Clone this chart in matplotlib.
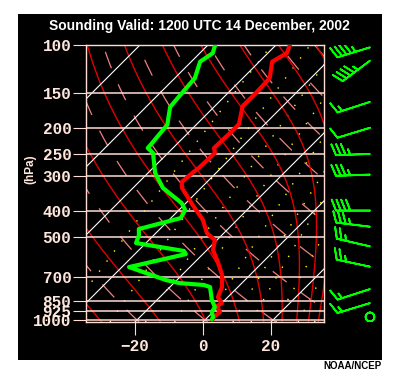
import numpy as np
import matplotlib
matplotlib.use('Agg')
import matplotlib.pyplot as plt
from matplotlib.patches import Rectangle
from matplotlib.ticker import FixedLocator, NullLocator, NullFormatter

# Temperature trace (hPa, degC)
TEMP_P = [100, 107, 115, 132, 148, 167, 194, 207, 237, 247, 278, 297, 315, 331,
          382, 433, 483, 512, 557, 616, 686, 759, 826, 868, 890, 936, 967, 1000]
TEMP_T = [-55.9, -54.4, -56.2, -52.1, -51.8, -51.8, -47.6, -47.6, -47.9, -46.2,
          -46.5, -47.1, -47.4, -45.6, -37.4, -30.0, -25.0, -20.6, -18.2, -13.2,
          -8.2, -4.7, -2.9, 0.0, -0.6, 2.1, 1.8, 2.1]

# Dewpoint trace (hPa, degC)
DEWP_P = [100, 107, 115, 132, 150, 168, 195, 227, 237, 247, 292, 331, 376, 398,
          426, 467, 491, 525, 561, 576, 642, 716, 734, 746, 759, 847, 897, 936,
          975, 993]
DEWP_T = [-77.9, -76.2, -77.4, -74.1, -73.5, -72.9, -68.5, -67.6, -67.4, -64.4,
          -57.9, -51.2, -41.2, -38.2, -37.1, -46.2, -44.4, -42.9, -26.5, -25.0,
          -37.9, -23.2, -18.5, -10.6, -8.2, -3.8, -0.9, -0.3, 1.5, 1.8]

# Wind barbs (hPa, knots, direction in degrees); 0 kt = calm
WIND_P = [102, 114, 161, 200, 249, 296, 400, 458, 540, 640, 772, 868, 975]
WIND_SPD = [45, 45, 15, 10, 35, 35, 40, 35, 25, 25, 15, 15, 0]
WIND_DIR = [253, 233, 252, 253, 268, 268, 270, 277, 283, 282, 252, 253, 0]

# Chart furniture
ISOBARS = [100, 150, 200, 250, 300, 400, 500, 700, 850, 925, 1000]
ISOBAR_LABELS = ['100', '150', '200', '250', '300', '400', '500', '700', '850', '925', '1000']
T_TICKS = [-20, 0, 20]
ISOTHERMS = [-100, -80, -60, -40, -20, 0, 20]
DRY_THETA_C = [-20, 0, 20, 40, 60, 80, 100, 120, 140, 160]
MOIST_THETA_E = [243, 263, 283, 303, 323, 343, 363, 383, 403, 423]
MIX_RATIOS = [0.1, 0.4, 1, 2, 4, 7, 10, 16, 24, 32]

P_BOT = 1017.0
P_TOP = 100.0
X_MIN, X_MAX = -34.4, 35.6

RD = 287.04
CP = 1005.7
LV = 2.501e6
EPS = 0.622

PINK = '#FFDDD3'
LABEL = '#FFE6DC'
GREEN = '#00FF00'

W_PX, H_PX = 400, 375
AX_L, AX_R, AX_T, AX_B = 86, 324, 45, 322

# skew so isotherms run at 45 degrees on screen
SKEW = ((AX_B - AX_T) / np.log(P_BOT / P_TOP)) / ((AX_R - AX_L) / (X_MAX - X_MIN))


def skew_x(t_c, p):
    return np.asarray(t_c) + SKEW * np.log(P_BOT / np.asarray(p))


def sat_vap(t_c):
    return 6.112 * np.exp(17.67 * t_c / (t_c + 243.5))


def sat_mix(t_k, p):
    es = sat_vap(t_k - 273.15)
    return EPS * es / (p - es)


def theta_e(t_k, p):
    rs = sat_mix(t_k, p)
    return t_k * (1000.0 / p) ** (RD / CP) * np.exp(LV * rs / (CP * t_k))


def moist_rate(t_k, p):
    rs = sat_mix(t_k, p)
    return (RD * t_k + LV * rs) / (CP + LV ** 2 * rs * EPS / (RD * t_k ** 2))


def moist_adiabat(the, p_levels):
    lo, hi = 200.0, 320.0
    for _ in range(60):
        mid = 0.5 * (lo + hi)
        if theta_e(mid, p_levels[0]) > the:
            hi = mid
        else:
            lo = mid
    t = 0.5 * (lo + hi)
    temps = [t]
    for i in range(1, len(p_levels)):
        dlnp = np.log(p_levels[i] / p_levels[i - 1])
        k1 = moist_rate(t, p_levels[i - 1])
        pm = p_levels[i - 1] * np.exp(0.5 * dlnp)
        k2 = moist_rate(t + 0.5 * dlnp * k1, pm)
        t = t + dlnp * k2
        temps.append(t)
    return np.array(temps) - 273.15


def mix_line(w, p):
    e = p * w / (622.0 + w)
    a = np.log(e / 6.112)
    return 243.5 * a / (17.67 - a)


fig = plt.figure(figsize=(W_PX / 100, H_PX / 100), dpi=100, facecolor='white')
fig.patches.append(Rectangle((18 / W_PX, 1 - 360 / H_PX), 364 / W_PX, 346 / H_PX,
                             transform=fig.transFigure, facecolor='black',
                             edgecolor='none', zorder=-10))

ax = fig.add_axes([AX_L / W_PX, 1 - AX_B / H_PX, (AX_R - AX_L) / W_PX, (AX_B - AX_T) / H_PX])
ax.set_facecolor('black')
ax.set_yscale('log')
ax.set_ylim(P_BOT, P_TOP)
ax.set_xlim(X_MIN, X_MAX)

p_line = np.geomspace(P_BOT, P_TOP, 300)

# mixing ratio lines
for w in MIX_RATIOS:
    ax.plot(skew_x(mix_line(w, p_line), p_line), p_line, color='#FFFF00', lw=1.0,
            linestyle=(0, (1, 8)), zorder=1)

# dry adiabats
for th in DRY_THETA_C:
    t = (th + 273.15) * (p_line / 1000.0) ** (RD / CP) - 273.15
    ax.plot(skew_x(t, p_line), p_line, color='#F08080', lw=0.9,
            linestyle=(0, (14, 14)), zorder=1)

# saturated adiabats
for the in MOIST_THETA_E:
    t = moist_adiabat(the, p_line)
    ax.plot(skew_x(t, p_line), p_line, color='#E00000', lw=1.0, zorder=2)

# isotherms
for t in ISOTHERMS:
    ax.plot(skew_x([t, t], [P_BOT, P_TOP]), [P_BOT, P_TOP], color='white', lw=0.8, zorder=2)

# isobars
for p in ISOBARS:
    ax.axhline(p, color=PINK, lw=1.1, zorder=3)

# sounding
ax.plot(skew_x(TEMP_T, TEMP_P), TEMP_P, color='#FF0000', lw=3, zorder=5,
        solid_joinstyle='round', solid_capstyle='round')
ax.plot(skew_x(DEWP_T, DEWP_P), DEWP_P, color=GREEN, lw=3, zorder=6,
        solid_joinstyle='round', solid_capstyle='round')

for s in ax.spines.values():
    s.set_color(PINK)
    s.set_linewidth(1.0)

ax.yaxis.set_major_locator(FixedLocator(ISOBARS))
ax.yaxis.set_minor_locator(NullLocator())
ax.yaxis.set_minor_formatter(NullFormatter())
ax.set_yticklabels(ISOBAR_LABELS)
ax.set_xticks(T_TICKS)
ax.set_xticklabels(['\u221220', '0', '20'])
ax.tick_params(axis='both', direction='out', length=9.5, width=0.8, color=PINK,
               labelcolor=LABEL, pad=1)
ax.tick_params(axis='x', pad=3)
for lab in ax.get_yticklabels() + ax.get_xticklabels():
    lab.set_family(['Liberation Mono', 'DejaVu Sans Mono'])
    lab.set_fontweight('bold')
    lab.set_fontsize(11.5)

# wind barbs on the right
axb = fig.add_axes([AX_R / W_PX, 1 - AX_B / H_PX, 58 / W_PX, (AX_B - AX_T) / H_PX])
axb.set_yscale('log')
axb.set_ylim(P_BOT, P_TOP)
axb.set_xlim(0, 58)
axb.axis('off')
spd = np.array(WIND_SPD, dtype=float)
rad = np.deg2rad(WIND_DIR)
u = -spd * np.sin(rad)
v = -spd * np.cos(rad)
axb.barbs(np.full(len(WIND_P), 46.0), WIND_P, u, v, length=7.0, pivot='tip',
          color=GREEN, linewidth=1.3,
          sizes=dict(spacing=0.14, height=0.32, width=0.25, emptybarb=0.13))

fig.text(0.4975, 1 - 26 / H_PX, 'Sounding Valid: 1200 UTC 14 December, 2002',
         ha='center', va='center', color='white', fontsize=10, fontweight='bold',
         family='Liberation Sans')
fig.text(30 / W_PX, 1 - 169 / H_PX, '(hPa)', rotation=90, ha='center', va='center',
         color=LABEL, fontsize=8.5, fontweight='bold', family='Liberation Sans')
fig.text(382 / W_PX, 1 - 366 / H_PX, 'NOAA/NCEP', ha='right', va='center',
         color='black', fontsize=7, fontweight='bold', family='Liberation Sans')

fig.savefig('out.png', dpi=100, facecolor='white')
